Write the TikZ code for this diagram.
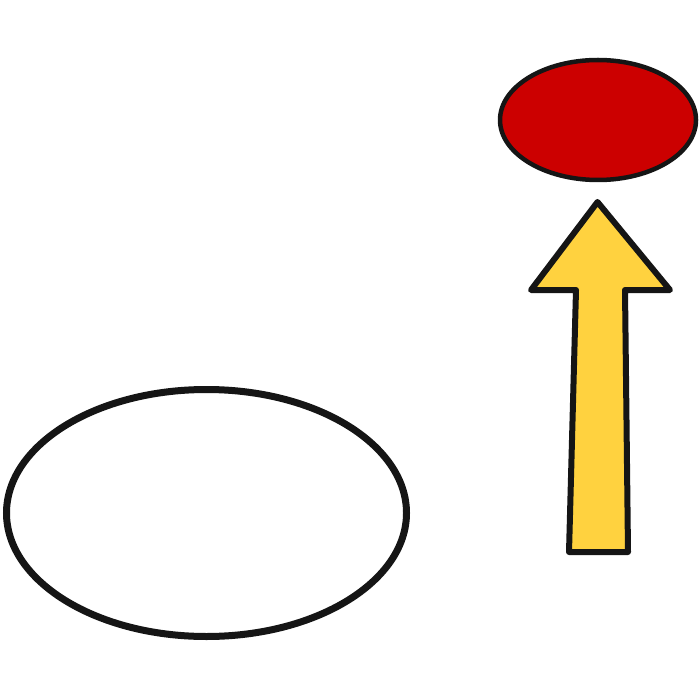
\documentclass[tikz,border=0pt]{standalone}
\usetikzlibrary{shapes.geometric}
\definecolor{redfill}{HTML}{CC0000}
\definecolor{yellowfill}{HTML}{FFD23F}
\definecolor{ink}{HTML}{151515}
\begin{document}
\begin{tikzpicture}[x=1pt,y=-1pt,
  blob/.style={ellipse,draw=ink,inner sep=0pt,outer sep=0pt},
  arrowshape/.style={draw=ink,fill=yellowfill,line width=6pt,line join=round}]
\useasboundingbox (0,0) rectangle (700,700);
\node[blob,line width=7pt,fill=white,minimum width=400pt,minimum height=247pt] (big) at (206.5,513) {};
\node[blob,line width=4.5pt,fill=redfill,minimum width=196pt,minimum height=120pt] (red) at (598,120) {};
\coordinate (tip) at (597.5,202);
\draw[arrowshape] (tip) -- (670,290) -- (625,290) -- (628,552) -- (569,552) -- (576,290) -- (531,290) -- cycle;
\end{tikzpicture}
\end{document}
